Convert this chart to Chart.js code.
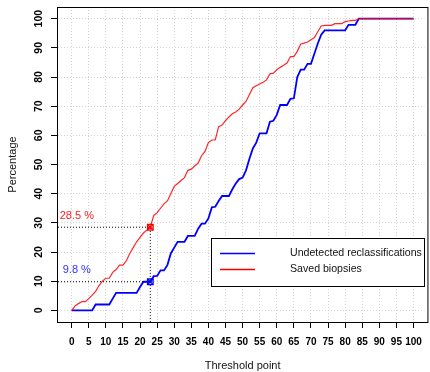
<!DOCTYPE html>
<html>
<head>
<meta charset="utf-8">
<script src="https://cdn.jsdelivr.net/npm/chart.js@4/dist/chart.umd.min.js"></script>
<style>
  body { margin: 0; background: #fff; }
  canvas { display: block; }
</style>
</head>
<body>
<canvas id="chart" width="430" height="372"></canvas>
<script>

// threshold points 0..100
const thresholds = [
   0,  1,  2,  3,  4,  5,  6,  7,  8,  9, 10, 11, 12, 13, 14, 15, 16, 17, 18, 19,
  20, 21, 22, 23, 24, 25, 26, 27, 28, 29, 30, 31, 32, 33, 34, 35, 36, 37, 38, 39,
  40, 41, 42, 43, 44, 45, 46, 47, 48, 49, 50, 51, 52, 53, 54, 55, 56, 57, 58, 59,
  60, 61, 62, 63, 64, 65, 66, 67, 68, 69, 70, 71, 72, 73, 74, 75, 76, 77, 78, 79,
  80, 81, 82, 83, 84, 85, 86, 87, 88, 89, 90, 91, 92, 93, 94, 95, 96, 97, 98, 99, 100
]

const undetected = [
   0,    0,    0,    0,    0,    0,    0,    2,    2,    2,
   2,    2,    4,    6,    6,    6,    6,    6,    6,    6,
   8,  9.8,  9.8,  9.8, 11.7, 11.8, 13.7, 13.7, 15.5, 19.5,
21.5, 23.5, 23.5, 23.5, 25.5, 25.5, 25.5,   28, 29.7, 29.7,
31.5, 35.3, 35.5, 37.5, 39.2, 39.2, 39.2, 41.5, 43.5,   45,
45.5,   48,   52, 55.5, 57.5, 60.7, 60.7, 60.7, 64.7,   65,
  67, 70.4, 70.4, 70.4, 72.5, 72.7,   80, 82.5, 82.5, 84.5,
84.5,   88, 91.5, 94.5,   96,   96,   96,   96,   96,   96,
  96, 97.9, 97.9, 97.9,  100,  100,  100,  100,  100,  100,
 100,  100,  100,  100,  100,  100,  100,  100,  100,  100, 100
]

const saved = [
   0,  1.5,  2.3,    3,    3,    4,  5.2,  6.5,  8.5,   10,
  11,   11,   13,   14, 15.5, 15.5,   17, 19.5, 21.5, 23.5,
  25, 26.5, 27.5, 28.5, 32.5, 33.5,   35, 36.5, 37.5,   40,
42.5, 43.5, 44.5, 45.5,   48, 48.4, 49.5, 50.5,   53, 54.5,
57.5, 58.4, 58.4,   63, 63.5,   65, 66.3, 67.4,   68,   69,
70.4, 71.6,   74, 76.3,   77, 77.6, 78.2,   79, 81.1, 81.3,
82.5, 83.3,   84, 84.8,   87,   87, 88.8, 91.3, 91.6,   92,
92.8, 93.5, 95.5, 97.5, 97.7, 97.7, 97.7, 98.3, 98.3, 98.3,
  99, 99.2, 99.4, 99.4,  100,  100,  100,  100,  100,  100,
 100,  100,  100,  100,  100,  100,  100,  100,  100,  100, 100
]

// chosen cut-off and the two readings at it
const cutoff = 23
const savedAtCut = 28.5
const undetectedAtCut = 9.8

const xTicks = [0, 5, 10, 15, 20, 25, 30, 35, 40, 45, 50, 55, 60, 65, 70, 75, 80, 85, 90, 95, 100]
const yTicks = [0, 10, 20, 30, 40, 50, 60, 70, 80, 90, 100]

const seriesNames = ['Undetected reclassifications', 'Saved biopsies']

const X_MIN = -4, X_MAX = 103.2, Y_MIN = -4, Y_MAX = 104
const FONT = '"Liberation Sans", Arial, Helvetica, sans-serif'
const BLUE = '#0000ff'
const RED = '#ff0000'


const toPoints = (ys) => thresholds.map((x, i) => ({ x: x, y: ys[i] }))


// frame, rotated y labels, axis titles, value labels and legend
const decorations = {
  id: 'decorations',
  afterDraw(chart){
    const ctx = chart.ctx
    const a = chart.chartArea
    const xs = chart.scales.x
    const ys = chart.scales.y

    ctx.save()

    // box (right side sits just off the canvas)
    ctx.strokeStyle = '#000'
    ctx.lineWidth = 1
    ctx.setLineDash([])
    ctx.strokeRect(Math.round(a.left) - 0.5, Math.round(a.top) + 0.5, a.right - a.left + 4, a.bottom - a.top)

    // y tick labels, rotated like base R
    ctx.fillStyle = '#000'
    ctx.font = 'bold 10.5px ' + FONT
    ctx.textAlign = 'center'
    ctx.textBaseline = 'middle'
    yTicks.forEach((v)=>{
      ctx.save()
      ctx.translate(39, ys.getPixelForValue(v))
      ctx.rotate(-Math.PI / 2)
      ctx.fillText(String(v), 0, 0)
      ctx.restore()
    })

    // axis titles
    ctx.font = '11px ' + FONT
    ctx.fillStyle = '#111'
    ctx.fillText('Threshold point', (a.left + xs.getPixelForValue(104)) / 2, 366)
    ctx.save()
    ctx.translate(13, (a.top + a.bottom) / 2)
    ctx.rotate(-Math.PI / 2)
    ctx.fillText('Percentage', 0, 0)
    ctx.restore()

    // value labels at the cut-off
    ctx.font = '11px ' + FONT
    ctx.fillStyle = '#ff2020'
    ctx.fillText(savedAtCut + ' %', xs.getPixelForValue(1.5), ys.getPixelForValue(savedAtCut + 4))
    ctx.fillStyle = '#3030ff'
    ctx.fillText(undetectedAtCut + ' %', xs.getPixelForValue(1.5), ys.getPixelForValue(undetectedAtCut + 4))

    // legend
    const lx = 211, ly = 238, lw = 213, lh = 48
    ctx.fillStyle = '#fff'
    ctx.fillRect(lx, ly, lw, lh)
    ctx.strokeStyle = '#000'
    ctx.strokeRect(lx + 0.5, ly + 0.5, lw, lh)
    const rows = [ { name: seriesNames[0], color: BLUE, y: 253.5 }, { name: seriesNames[1], color: RED, y: 269.5 } ]
    rows.forEach((r)=>{
      ctx.strokeStyle = r.color
      ctx.lineWidth = 1.3
      ctx.beginPath()
      ctx.moveTo(220, r.y)
      ctx.lineTo(255, r.y)
      ctx.stroke()
      ctx.fillStyle = '#111'
      ctx.font = '10.6px ' + FONT
      ctx.textAlign = 'left'
      ctx.fillText(r.name, 290, r.y)
    })

    ctx.restore()
  }
}


const setup = {
  type: 'line',
  data: {
    datasets: [
      { label: seriesNames[0], data: toPoints(undetected), borderColor: BLUE, borderWidth: 1.8, pointRadius: 0, tension: 0, order: 3 },
      { label: seriesNames[1], data: toPoints(saved), borderColor: 'rgba(255,0,0,0.85)', borderWidth: 1.2, pointRadius: 0, tension: 0, order: 2 },
      // dotted guides from the axes to the cut-off readings
      { label: 'guideSaved', data: [ { x: X_MIN, y: savedAtCut }, { x: cutoff, y: savedAtCut }, { x: cutoff, y: Y_MIN } ],
        borderColor: '#000', borderWidth: 1, borderDash: [1, 2], pointRadius: 0, order: 1 },
      { label: 'guideUndetected', data: [ { x: X_MIN, y: undetectedAtCut }, { x: cutoff, y: undetectedAtCut } ],
        borderColor: '#000', borderWidth: 1, borderDash: [1, 2], pointRadius: 0, order: 1 },
      // square with a cross, like pch 7
      { label: 'markSavedBox', data: [ { x: cutoff, y: savedAtCut } ], showLine: false, pointStyle: 'rect', pointRadius: 4,
        borderColor: RED, backgroundColor: 'rgba(255,0,0,0.25)', borderWidth: 1.2, order: 0 },
      { label: 'markSavedCross', data: [ { x: cutoff, y: savedAtCut } ], showLine: false, pointStyle: 'crossRot', pointRadius: 4,
        borderColor: RED, borderWidth: 1.2, order: 0 },
      { label: 'markUndetBox', data: [ { x: cutoff, y: undetectedAtCut } ], showLine: false, pointStyle: 'rect', pointRadius: 4,
        borderColor: BLUE, backgroundColor: 'rgba(0,0,255,0.25)', borderWidth: 1.2, order: 0 },
      { label: 'markUndetCross', data: [ { x: cutoff, y: undetectedAtCut } ], showLine: false, pointStyle: 'crossRot', pointRadius: 4,
        borderColor: BLUE, borderWidth: 1.2, order: 0 },
    ]
  },
  options: {
    responsive: false,
    animation: false,
    events: [],
    layout: { padding: { top: 7, left: 0, right: 0, bottom: 0 } },
    plugins: {
      legend: { display: false },
      tooltip: { enabled: false },
    },
    scales: {
      x: {
        type: 'linear',
        min: X_MIN,
        max: X_MAX,
        afterBuildTicks: (s)=>{ s.ticks = xTicks.map(v => ({ value: v })) },
        afterFit: (s)=>{ s.height = 50 },
        grid: { color: '#d4d4d4', lineWidth: 1, tickLength: 6, tickColor: '#000', tickWidth: 1, tickBorderDash: [] },
        border: { display: false, dash: [1, 2] },
        ticks: {
          autoSkip: false, maxRotation: 0, minRotation: 0, padding: 8,
          color: '#000', font: { family: FONT, size: 10, weight: 'bold' },
          callback: (v)=> String(v)
        }
      },
      y: {
        type: 'linear',
        min: Y_MIN,
        max: Y_MAX,
        afterBuildTicks: (s)=>{ s.ticks = yTicks.map(v => ({ value: v })) },
        afterFit: (s)=>{ s.width = 58 },
        grid: { color: '#d4d4d4', lineWidth: 1, tickLength: 7, tickColor: '#000', tickWidth: 1, tickBorderDash: [] },
        border: { display: false, dash: [1, 2] },
        ticks: { display: false }
      }
    }
  },
  plugins: [decorations]
}

new Chart(document.getElementById('chart'), setup)

</script>
</body>
</html>
